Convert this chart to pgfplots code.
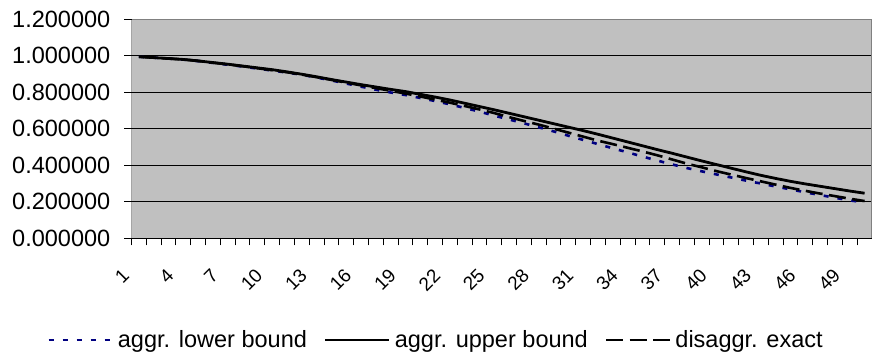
\documentclass[border=0pt]{standalone}
\usepackage{pgfplots}
\pgfplotsset{compat=1.18}
\usepackage{pgfplotstable}
\usepackage{fontspec}
\setmainfont{Liberation Sans}
\definecolor{plotbg}{RGB}{192,192,192}
\definecolor{framegray}{RGB}{128,128,128}
\definecolor{dotnavy}{RGB}{0,0,128}

\pgfplotstableread{
x lower upper exact
1 0.995 0.995 0.995
2 0.990 0.990 0.990
3 0.985 0.985 0.985
4 0.979 0.980 0.980
5 0.971 0.972 0.972
6 0.961 0.963 0.962
7 0.951 0.954 0.953
8 0.941 0.944 0.943
9 0.930 0.934 0.932
10 0.919 0.924 0.921
11 0.908 0.912 0.910
12 0.896 0.899 0.897
13 0.881 0.885 0.883
14 0.865 0.870 0.868
15 0.848 0.856 0.853
16 0.831 0.842 0.838
17 0.814 0.829 0.823
18 0.799 0.816 0.808
19 0.785 0.804 0.793
20 0.769 0.789 0.777
21 0.752 0.774 0.760
22 0.734 0.758 0.743
23 0.714 0.740 0.725
24 0.694 0.722 0.706
25 0.672 0.704 0.686
26 0.651 0.685 0.664
27 0.630 0.666 0.643
28 0.608 0.647 0.623
29 0.586 0.628 0.601
30 0.562 0.609 0.579
31 0.539 0.590 0.557
32 0.516 0.570 0.535
33 0.493 0.549 0.516
34 0.471 0.528 0.496
35 0.448 0.507 0.476
36 0.426 0.486 0.455
37 0.405 0.466 0.432
38 0.385 0.445 0.409
39 0.367 0.424 0.389
40 0.350 0.404 0.368
41 0.333 0.384 0.349
42 0.316 0.364 0.330
43 0.300 0.345 0.312
44 0.284 0.328 0.294
45 0.268 0.312 0.276
46 0.252 0.298 0.260
47 0.237 0.285 0.245
48 0.222 0.272 0.231
49 0.208 0.259 0.217
50 0.196 0.247 0.204
}\datatable

\begin{document}
\begin{tikzpicture}
\useasboundingbox (0,0) rectangle (872bp,362bp);
\begin{axis}[
  at={(131.5bp,123.7bp)}, anchor=south west,
  scale only axis,
  width=740.5bp, height=219bp,
  xmin=0.5, xmax=50.5,
  ymin=0, ymax=1.2,
  axis background/.style={fill=plotbg},
  axis line style={draw=none},
  ytick={0,0.2,0.4,0.6,0.8,1.0,1.2},
  ymajorgrids,
  y grid style={black, line width=1bp},
  xtick={0.5,1.5,...,50.5},
  xticklabels={},
  xtick pos=lower, ytick pos=left,
  tick align=outside,
  major tick length=7bp,
  tick style={black, line width=1bp},
  extra x ticks={1,4,7,10,13,16,19,22,25,28,31,34,37,40,43,46,49},
  extra x tick labels={1,4,7,10,13,16,19,22,25,28,31,34,37,40,43,46,49},
  extra x tick style={major tick length=0pt, grid=none,
     xticklabel style={xshift=-13bp, yshift=-34bp, rotate=45, anchor=east, inner sep=0pt,
       font=\fontsize{19}{23}\selectfont}},
  tick label style={font=\fontsize{23.6}{28}\selectfont},
  yticklabel style={anchor=east, inner sep=0pt, xshift=-14bp,
     /pgf/number format/.cd, fixed, fixed zerofill, precision=6, assume math mode=true},
  xticklabel style={/pgf/number format/assume math mode=true},
  legend columns=3,
  legend style={at={(-0.114,-0.464)}, anchor=west, draw=none, fill=none,
     font=\fontsize{23.6}{28}\selectfont,
     inner sep=0pt,
     nodes={inner xsep=4bp},
     /tikz/every even column/.append style={column sep=13bp}},
  legend image code/.code={\draw[#1] (0bp,0bp) -- (64bp,0bp);},
]
\addplot[dotnavy, line width=2.6bp, dash pattern=on 5bp off 9bp] table[x=x, y=lower] {\datatable};
\addlegendentry{aggr. lower bound}
\addplot[black, line width=2.8bp] table[x=x, y=upper] {\datatable};
\addlegendentry{aggr. upper bound}
\addplot[black, line width=2.6bp, dash pattern=on 17bp off 6.5bp] table[x=x, y=exact] {\datatable};
\addlegendentry{disaggr. exact}
\draw[framegray, line width=1.5bp] (rel axis cs:0,1) -- (rel axis cs:1,1) -- (rel axis cs:1,0);
\draw[black, line width=1.3bp] (rel axis cs:0,1) -- (rel axis cs:0,0) -- (rel axis cs:1,0);
\end{axis}
\end{tikzpicture}
\end{document}
